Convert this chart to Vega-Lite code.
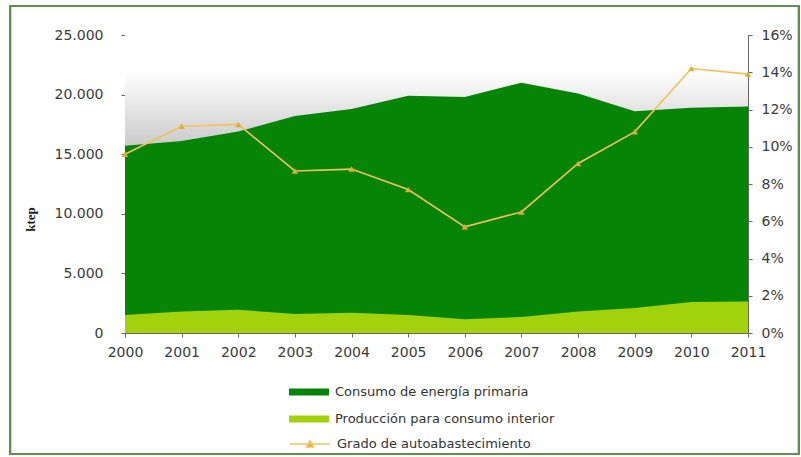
{
  "$schema": "https://vega.github.io/schema/vega-lite/v6.json",
  "width": 623,
  "height": 298,
  "autosize": {"type": "none"},
  "padding": {"left": 125, "top": 35, "right": 53, "bottom": 124},
  "background": "#ffffff",
  "data": {
    "values": [
      {"year": 2000, "cons": 15700, "prod": 1500, "pct": 0.096},
      {"year": 2001, "cons": 16100, "prod": 1800, "pct": 0.111},
      {"year": 2002, "cons": 16900, "prod": 1950, "pct": 0.112},
      {"year": 2003, "cons": 18200, "prod": 1600, "pct": 0.087},
      {"year": 2004, "cons": 18800, "prod": 1700, "pct": 0.088},
      {"year": 2005, "cons": 19900, "prod": 1500, "pct": 0.077},
      {"year": 2006, "cons": 19800, "prod": 1150, "pct": 0.057},
      {"year": 2007, "cons": 21000, "prod": 1350, "pct": 0.065},
      {"year": 2008, "cons": 20100, "prod": 1800, "pct": 0.091},
      {"year": 2009, "cons": 18600, "prod": 2100, "pct": 0.108},
      {"year": 2010, "cons": 18900, "prod": 2600, "pct": 0.142},
      {"year": 2011, "cons": 19000, "prod": 2650, "pct": 0.139}
    ]
  },
  "layer": [
    {
      "layer": [
        {
          "mark": {"type": "area", "interpolate": "linear", "opacity": 1},
          "encoding": {
            "x": {
              "field": "year", "type": "quantitative",
              "scale": {"domain": [2000, 2011], "nice": false, "zero": false},
              "axis": {"values": [2000, 2001, 2002, 2003, 2004, 2005, 2006, 2007, 2008, 2009, 2010, 2011], "tickCount": 12, "format": "d", "title": null, "labelFlush": false, "labelOverlap": false}
            },
            "y": {
              "field": "cons", "type": "quantitative", "stack": null,
              "scale": {"domain": [0, 25000], "nice": false},
              "axis": {"values": [0, 5000, 10000, 15000, 20000, 25000], "tickCount": 6, "title": "ktep", "labelFlush": false, "labelOverlap": false,
                       "labelExpr": "replace(format(datum.value, ','), ',', '.')"}
            },
            "fill": {
              "datum": "Consumo de energía primaria",
              "scale": {
                "domain": ["Consumo de energía primaria", "Producción para consumo interior"],
                "range": ["#058405", "#a2d20c"]
              },
              "legend": {
                "orient": "none", "legendX": 174, "legendY": 347, "direction": "vertical",
                "title": null, "padding": 0, "labelLimit": 0,
                "labelFont": "DejaVu Sans", "labelFontSize": 13, "labelColor": "#333333",
                "symbolType": "M-2,-0.35H2V0.35H-2Z",
                "symbolSize": 400, "labelOffset": 16, "rowPadding": 10,
                "symbolStrokeWidth": 0, "symbolOpacity": 1
              }
            }
          }
        },
        {
          "mark": {
            "type": "rect",
            "color": {
              "gradient": "linear", "x1": 0, "y1": 0, "x2": 0, "y2": 1,
              "stops": [
                {"offset": 0, "color": "#ffffff"},
                {"offset": 0.12, "color": "#ffffff"},
                {"offset": 0.4, "color": "#c4c4c4"},
                {"offset": 1, "color": "#b8b8b8"}
              ]
            }
          },
          "encoding": {
            "x": {"datum": 2000, "type": "quantitative"},
            "x2": {"datum": 2011},
            "y": {"datum": 0, "type": "quantitative", "title": "ktep"},
            "y2": {"datum": 25000}
          }
        },
        {
          "mark": {"type": "area", "interpolate": "linear", "opacity": 1},
          "encoding": {
            "x": {"field": "year", "type": "quantitative", "title": null},
            "y": {"field": "cons", "type": "quantitative", "stack": null, "title": "ktep"},
            "fill": {"datum": "Consumo de energía primaria"}
          }
        },
        {
          "mark": {"type": "area", "interpolate": "linear", "opacity": 1},
          "encoding": {
            "x": {"field": "year", "type": "quantitative", "title": null},
            "y": {"field": "prod", "type": "quantitative", "stack": null, "title": "ktep"},
            "fill": {"datum": "Producción para consumo interior"}
          }
        },
        {
          "mark": {"type": "rect", "fill": null, "stroke": "#5e8f4f", "strokeWidth": 2},
          "encoding": {
            "x": {"datum": 1997.97, "type": "quantitative"},
            "x2": {"datum": 2011.9},
            "y": {"datum": 27430, "type": "quantitative", "title": "ktep"},
            "y2": {"datum": -10150}
          }
        }
      ]
    },
    {
      "layer": [
        {
          "mark": {"type": "line", "strokeWidth": 1.6},
          "encoding": {
            "x": {"field": "year", "type": "quantitative", "title": null},
            "y": {
              "field": "pct", "type": "quantitative",
              "scale": {"domain": [0, 0.16], "nice": false},
              "axis": {"orient": "right", "values": [0, 0.02, 0.04, 0.06, 0.08, 0.1, 0.12, 0.14, 0.16], "tickCount": 9, "format": ".0%", "title": null, "labelFlush": false, "labelOverlap": false}
            },
            "stroke": {
              "datum": "Grado de autoabastecimiento",
              "scale": {"domain": ["Grado de autoabastecimiento"], "range": ["#f3c15a"]},
              "legend": {
                "orient": "none", "legendX": 174, "legendY": 398, "direction": "vertical",
                "title": null, "padding": 0, "labelLimit": 0,
                "labelFont": "DejaVu Sans", "labelFontSize": 13, "labelColor": "#333333",
                "symbolType": "M-2,0H2M-0.35,0.3L0,-0.3L0.35,0.3Z",
                "symbolSize": 400, "labelOffset": 16,
                "symbolStrokeWidth": 1.5, "symbolFillColor": "#d9b032", "symbolOpacity": 1
              }
            }
          }
        },
        {
          "mark": {"type": "point", "shape": "triangle-up", "filled": true, "fill": "#d9b032", "size": 40, "opacity": 1},
          "encoding": {
            "x": {"field": "year", "type": "quantitative", "title": null},
            "y": {"field": "pct", "type": "quantitative", "title": null}
          }
        }
      ]
    }
  ],
  "resolve": {"scale": {"y": "independent"}, "axis": {"y": "independent"}},
  "config": {
    "view": {"stroke": "#9a9a9a", "strokeWidth": 1},
    "axis": {
      "grid": false,
      "zindex": 1,
      "labelFlush": false,
      "labelOverlap": false,
      "domainColor": "#666666",
      "tickColor": "#666666",
      "tickSize": 4,
      "labelFont": "DejaVu Sans",
      "labelFontSize": 14,
      "labelColor": "#3a3a3a"
    },
    "axisLeft": {
      "labelPadding": 18,
      "titleFont": "Liberation Serif",
      "titleFontWeight": "bold",
      "titleFontSize": 13,
      "titleColor": "#222222",
      "titleX": -95,
      "titleY": 184,
      "titleBaseline": "middle"
    },
    "axisRight": {"labelPadding": 9},
    "axisBottom": {"labelPadding": 8}
  }
}
